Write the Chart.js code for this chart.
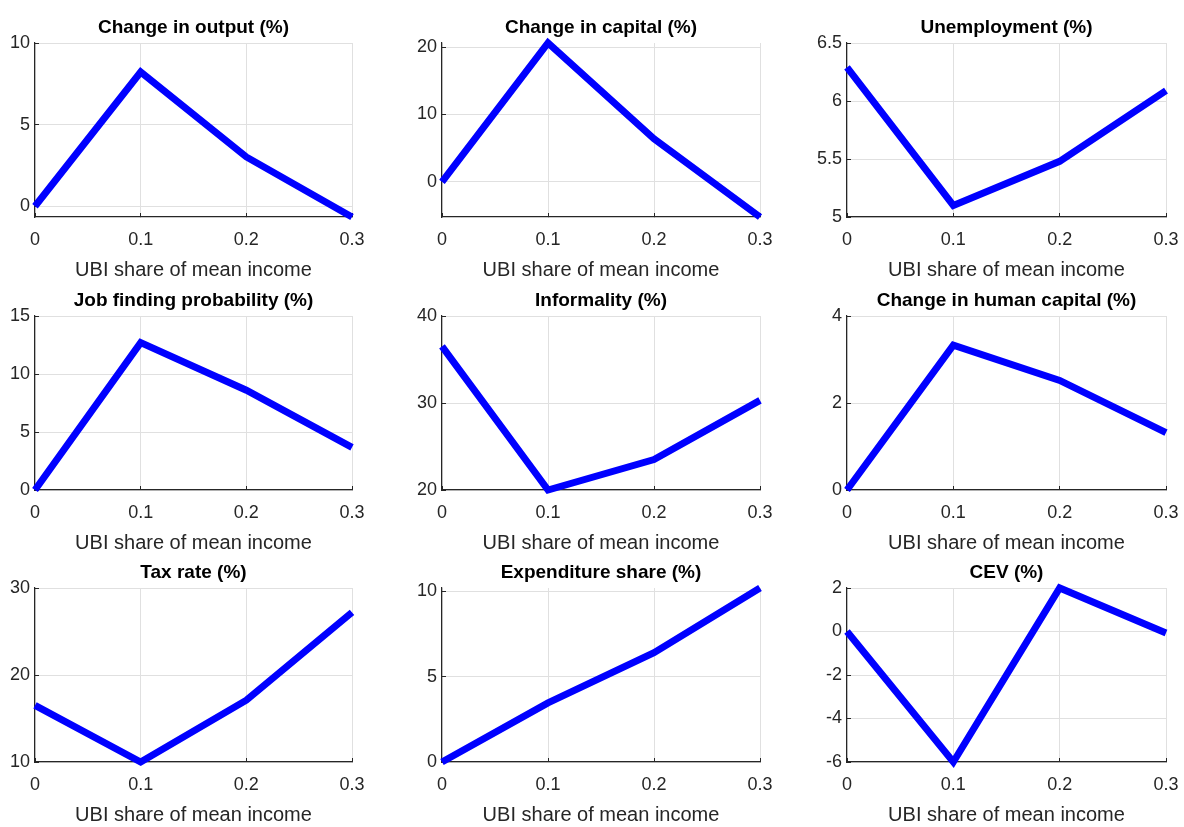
<!DOCTYPE html>
<html>
<head>
<meta charset="utf-8">
<script src="https://cdn.jsdelivr.net/npm/chart.js@4.4.1/dist/chart.umd.min.js"></script>
<style>
  html, body { margin: 0; padding: 0; background: #fff; overflow: hidden; }
  body { width: 1184px; height: 827px; position: relative; }
  canvas { position: absolute; }
</style>
</head>
<body>
<script>
// x values: UBI share of mean income
const ubiShare = [0, 0.1, 0.2, 0.3];
const xTicks = [0, 0.1, 0.2, 0.3];
const xLabel = "UBI share of mean income";

const titles = [
  "Change in output (%)", "Change in capital (%)", "Unemployment (%)",
  "Job finding probability (%)", "Informality (%)", "Change in human capital (%)",
  "Tax rate (%)", "Expenditure share (%)", "CEV (%)"
];

// series values
const outputChange = [0, 8.22, 3.02, -0.66];
const capitalChange = [0, 20.6, 6.4, -5.2];
const unemployment = [6.29, 5.1, 5.48, 6.09];
const jobFinding = [0, 12.7, 8.6, 3.67];
const informality = [36.5, 20, 23.5, 30.3];
const humanCapital = [0, 3.33, 2.52, 1.32];
const taxRate = [16.5, 10, 17.1, 27.2];
const expenditure = [0, 3.46, 6.39, 10.18];
const cev = [0, -6, 2, -0.07];

// y tick labels
const yTicksOutput = [0, 5, 10];
const yTicksCapital = [0, 10, 20];
const yTicksUnemp = [5, 5.5, 6, 6.5];
const yTicksJob = [0, 5, 10, 15];
const yTicksInformal = [20, 30, 40];
const yTicksHuman = [0, 2, 4];
const yTicksTax = [10, 20, 30];
const yTicksExp = [0, 5, 10];
const yTicksCev = [-6, -4, -2, 0, 2];

// y limits
const yMins = [-0.66, -5.2, 5, 0, 20, 0, 10, 0, -6];
const yMaxs = [10, 20.6, 6.5, 15, 40, 4, 30, 10.18, 2];

const series = [outputChange, capitalChange, unemployment, jobFinding, informality,
  humanCapital, taxRate, expenditure, cev];
const yTickSets = [yTicksOutput, yTicksCapital, yTicksUnemp, yTicksJob, yTicksInformal,
  yTicksHuman, yTicksTax, yTicksExp, yTicksCev];

// axes boxes in the page
const colLeft = [35, 442, 847];
const colWidth = [317, 318, 319];
const rowTop = [43, 316, 588];
const axH = 174;
const yAxisW = 40, titleH = 43, xAxisH = 65, padRight = 18;

Chart.defaults.font.family = "'Liberation Sans', Arial, Helvetica, sans-serif";
Chart.defaults.color = "#262626";

const fmt = v => String(+Number(v).toFixed(2));

titles.forEach((title, i) => {
  const r = Math.floor(i / 3), c = i % 3;
  const cv = document.createElement("canvas");
  const w = yAxisW + colWidth[c] + padRight;
  const h = titleH + axH + xAxisH;
  cv.width = w; cv.height = h;
  cv.style.left = (colLeft[c] - yAxisW) + "px";
  cv.style.top = (rowTop[r] - titleH) + "px";
  cv.style.width = w + "px"; cv.style.height = h + "px";
  document.body.appendChild(cv);

  const yt = yTickSets[i];

  new Chart(cv, {
    type: "line",
    data: {
      datasets: [{
        data: ubiShare.map((x, k) => ({ x: x, y: series[i][k] })),
        borderColor: "#0000ff",
        borderWidth: 7,
        pointRadius: 0,
        tension: 0,
        fill: false,
        clip: false
      }]
    },
    options: {
      responsive: false,
      animation: false,
      devicePixelRatio: 1,
      layout: { padding: { left: 0, top: 0, right: padRight, bottom: 0 } },
      plugins: {
        legend: { display: false },
        tooltip: { enabled: false },
        title: {
          display: true,
          text: title,
          fullSize: false,
          color: "#000000",
          font: { size: 19, weight: "bold" },
          padding: { top: 16.4, bottom: 3.8 }
        }
      },
      scales: {
        x: {
          type: "linear",
          min: 0,
          max: 0.3,
          afterBuildTicks: s => { s.ticks = xTicks.map(v => ({ value: v })); },
          afterFit: s => { s.height = xAxisH; s.paddingLeft = 0; s.paddingRight = 0; },
          grid: { color: "#e0e0e0", lineWidth: 1, tickLength: -4, tickColor: "#262626" },
          border: { display: true, color: "#262626", width: 1.2 },
          ticks: { callback: fmt, font: { size: 18 }, padding: 16, maxRotation: 0, autoSkip: false, color: "#262626" },
          title: { display: true, text: xLabel, font: { size: 20 }, color: "#262626", padding: { top: 0, bottom: 0 } }
        },
        y: {
          type: "linear",
          min: yMins[i],
          max: yMaxs[i],
          afterBuildTicks: s => { s.ticks = yt.map(v => ({ value: v })); },
          afterFit: s => { s.width = yAxisW; s.paddingTop = 0; s.paddingBottom = 0; },
          grid: { color: "#e0e0e0", lineWidth: 1, tickLength: -4, tickColor: "#262626" },
          border: { display: true, color: "#262626", width: 1.2 },
          ticks: { callback: fmt, font: { size: 18 }, padding: 9, autoSkip: false, color: "#262626" }
        }
      }
    }
  });
});
</script>
</body>
</html>
